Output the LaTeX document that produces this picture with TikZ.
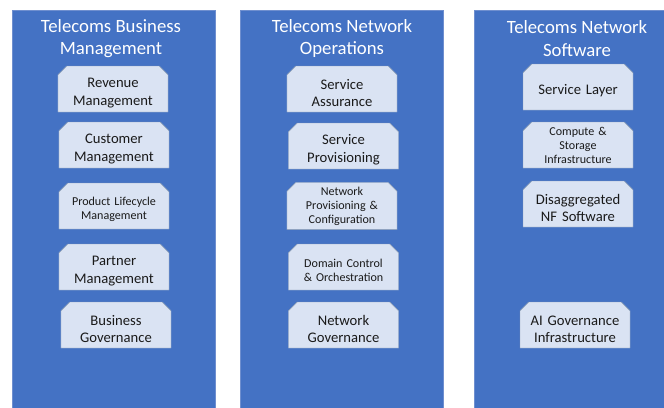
\documentclass[tikz,border=0pt]{standalone}
\usepackage{fontspec}
\setmainfont{Carlito}
\usetikzlibrary{shapes.misc}
\definecolor{colblue}{HTML}{4472C4}
\definecolor{colline}{HTML}{6F8FCF}
\definecolor{boxfill}{HTML}{DAE3F3}
\definecolor{boxline}{HTML}{8497B0}
\definecolor{boxtext}{HTML}{1A1A1A}
\tikzset{fstrut/.initial=15pt}

\begin{document}
\begin{tikzpicture}[x=0.03cm, y=-0.03cm,
  column/.style={fill=colblue, draw=colline},
  title/.style={text=white, align=center, font=\fontsize{16}{19}\selectfont},
  func/.style={chamfered rectangle, chamfered rectangle corners={north west,north east},
    chamfered rectangle xsep=0.15cm, minimum width=3.3cm, minimum height=1.38cm,
    inner sep=0pt, fill=boxfill, draw=boxline, text=boxtext,
    text width=3.0cm, align=center,
    execute at begin node={\rule{0pt}{\pgfkeysvalueof{/tikz/fstrut}}},
    font=\fontsize{12.5}{14.8}\selectfont},
  small/.style={fstrut=13pt, font=\fontsize{10.3}{12.6}\selectfont},
  three/.style={fstrut=8pt, font=\fontsize{10.3}{12}\selectfont}]
\useasboundingbox (0,0) rectangle (664,407);
% columns
\draw [column] (12,10) rectangle (215,412);
\draw [column] (240,10) rectangle (443,412);
\draw [column] (474,10) rectangle (670,412);
\node [title] (tbm) at (111,38.5) {Telecoms Business\\Management};
\node [title] (tno) at (342,38.5) {Telecoms Network\\Operations};
\node [title] (tns) at (577,38.5) {Telecoms Network\\Software};
% business management
\node [func] (revenue) at (113,89) {Revenue\\Management};
\node [func] (customer) at (114,145) {Customer\\Management};
\node [func, small] (lifecycle) at (114,206) {Product Lifecycle\\Management};
\node [func] (partner) at (114,267) {Partner\\Management};
\node [func] (bizgov) at (116,325) {Business\\Governance};
% network operations
\node [func] (assurance) at (342,89) {Service\\Assurance};
\node [func] (provisioning) at (343.5,146) {Service\\Provisioning};
\node [func, three] (netprov) at (342,206) {Network\\Provisioning \&\\Configuration};
\node [func, small] (domain) at (343.5,267) {Domain Control\\\& Orchestration};
\node [func] (netgov) at (343.5,325) {Network\\Governance};
% network software
\node [func] (svclayer) at (578,87) {Service Layer};
\node [func, three] (compute) at (578,145) {Compute \&\\Storage\\Infrastructure};
\node [func] (nfsw) at (578,204) {Disaggregated\\NF Software};
\node [func] (aigov) at (575,325) {AI Governance\\Infrastructure};
\end{tikzpicture}
\end{document}
